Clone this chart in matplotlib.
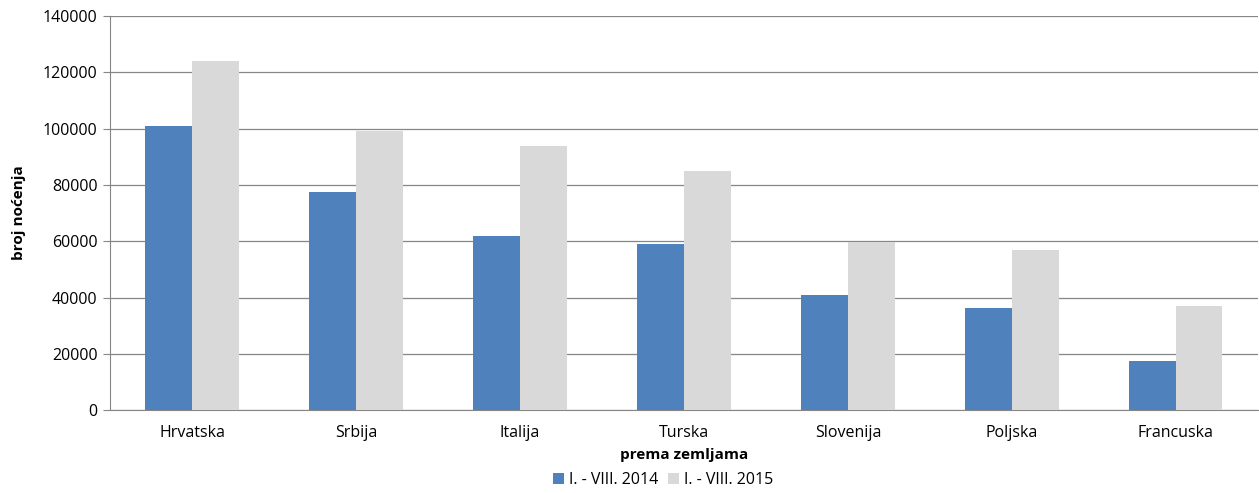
import matplotlib
matplotlib.use("Agg")
import matplotlib.pyplot as plt
import numpy as np

countries = ["Hrvatska", "Srbija", "Italija", "Turska", "Slovenija", "Poljska", "Francuska"]
nights_2014 = [101000, 77500, 62000, 59000, 41000, 36300, 17400]
nights_2015 = [124000, 99000, 94000, 85000, 59700, 56800, 37000]
series_labels = ["I. - VIII. 2014", "I. - VIII. 2015"]

plt.rcParams["font.family"] = ["Open Sans", "DejaVu Sans"]

fig = plt.figure(figsize=(12.59, 4.93), dpi=100)
ax = fig.add_axes([0.0874, 0.168, 0.9116, 0.7995])

x = np.arange(len(countries))
width = 0.285
ax.bar(x - width / 2, nights_2014, width, color="#4f81bd", label=series_labels[0], zorder=3)
ax.bar(x + width / 2, nights_2015, width, color="#d9d9d9", label=series_labels[1], zorder=3)

ax.set_xlim(-0.5, len(countries) - 0.5)
ax.set_ylim(0, 140000)
ax.set_yticks(np.arange(0, 140001, 20000))
ax.yaxis.grid(True, color="#868686", linewidth=0.9, zorder=0)
ax.set_axisbelow(True)

ax.set_xticks(x)
ax.set_xticklabels(countries, fontsize=11.5)
ax.tick_params(axis="x", length=0, pad=11)
ax.tick_params(axis="y", length=5, color="#868686", labelsize=11.5, pad=4)

for side in ("top", "right"):
    ax.spines[side].set_visible(False)
for side in ("left", "bottom"):
    ax.spines[side].set_color("#868686")

ax.set_xlabel("prema zemljama", fontsize=11, fontweight="bold", labelpad=5)
ax.set_ylabel("broj noćenja", fontsize=11, fontweight="bold", labelpad=12)

ax.legend(loc="upper center", bbox_to_anchor=(0.482, -0.128), ncol=2, frameon=False,
          fontsize=11.5, handlelength=0.7, handleheight=0.7, handletextpad=0.3,
          columnspacing=0.6, borderpad=0.2)

fig.savefig("out.png", dpi=100)
